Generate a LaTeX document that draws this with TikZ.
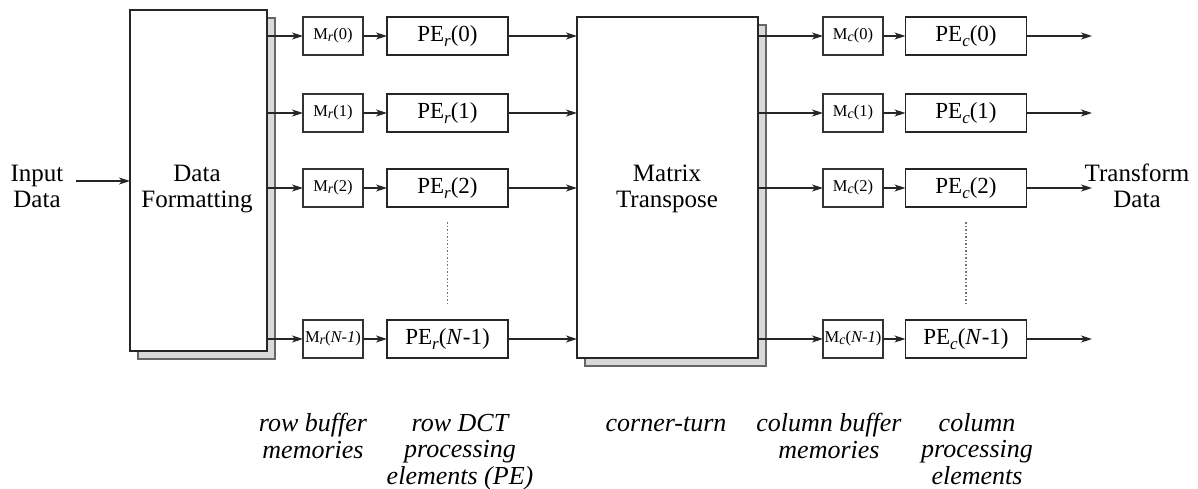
\documentclass[tikz,border=0pt]{standalone}
\usepackage{fontspec}
\setmainfont{Liberation Serif}
\usetikzlibrary{arrows.meta}
\newcommand\pesub[1]{\raisebox{-5pt}{\fontsize{17}{17}\selectfont\itshape #1}}
\newcommand\msub[1]{\raisebox{-2pt}{\fontsize{14}{14}\selectfont\itshape #1}}
\begin{document}
\begin{tikzpicture}[x=1pt,y=-1pt,
  every node/.style={inner sep=0pt,outer sep=0pt},
  bigbox/.style={draw=black!85,line width=1.1pt,fill=white,minimum width=#1,minimum height=341pt},
  shadowbox/.style={draw=black!60,line width=1.1pt,fill=black!15,minimum width=#1,minimum height=341pt},
  membox/.style={draw=black!80,line width=1.1pt,fill=white,minimum width=60pt,minimum height=38pt,font=\fontsize{16.5}{17}\selectfont},
  pebox/.style={draw=black!85,line width=1.1pt,fill=white,minimum width=121pt,minimum height=38pt,font=\fontsize{23}{24}\selectfont},
  lbl/.style={font=\fontsize{25}{25}\selectfont,align=center},
  captxt/.style={font=\fontsize{26}{26.5}\selectfont\itshape,align=center},
  arr/.style={-{Stealth[length=11pt,width=7pt,inset=3pt]},line width=1.1pt,draw=black!85},
  dots/.style={draw=black!55,line width=1.5pt,dash pattern=on 1.5pt off 2pt}]
\useasboundingbox (0,0) rectangle (1198,489);

% big blocks with shadows
\node[shadowbox=137pt] (dfs) at (206.5,188.5) {};
\node[bigbox=137pt] (df) at (198.5,180.5) {};
\node[lbl,anchor=base] (dft) at (197,207) {Data\\Formatting};
\node[shadowbox=181pt] (mts) at (675.5,195.5) {};
\node[bigbox=181pt] (mt) at (667.5,187.5) {};
\node[lbl,anchor=base] (mtt) at (667,207) {Matrix\\Transpose};

% input / output labels
\node[lbl,anchor=base] (inlbl) at (37,207) {Input\\Data};
\node[lbl,anchor=base] (outlbl) at (1137,207) {Transform\\Data};
\coordinate (in) at (76,181);
\draw[arr] (in) -- (in -| df.west);

% rows
\foreach \i/\y/\t/\u in {0/36/0/0,1/113/1/1,2/188/2/2,3/339/{\textit{N-1}}/{\textit{N}-1}}{
  \node[membox] (mr\i) at (333,\y) {M\msub{r}(\t)};
  \node[pebox] (per\i) at (447.5,\y) {PE\pesub{r}(\u)};
  \node[membox] (mc\i) at (853,\y) {M\msub{c}(\t)};
  \node[pebox] (pec\i) at (966,\y) {PE\pesub{c}(\u)};
  \coordinate (out\i) at (1092,\y);
  \draw[arr] (df.east |- mr\i) -- (mr\i);
  \draw[arr] (mr\i) -- (per\i);
  \draw[arr] (per\i) -- (mt.west |- per\i);
  \draw[arr] (mt.east |- mc\i) -- (mc\i);
  \draw[arr] (mc\i) -- (pec\i);
  \draw[arr] (pec\i) -- (out\i);
}

% dotted continuation
\draw[dots] ([yshift=-15pt]per2.south) -- ([yshift=16pt]per3.north);
\draw[dots] ([yshift=-15pt]pec2.south) -- ([yshift=16pt]pec3.north);

% captions
\node[captxt,anchor=base] (c1) at (313,458) {row buffer\\memories};
\node[captxt,anchor=base] (c2) at (460,484) {row DCT\\processing\\elements (PE)};
\node[captxt,anchor=base] (c3) at (666,431) {corner-turn};
\node[captxt,anchor=base] (c4) at (829,458) {column buffer\\memories};
\node[captxt,anchor=base] (c5) at (977,484) {column\\processing\\elements};
\end{tikzpicture}
\end{document}
